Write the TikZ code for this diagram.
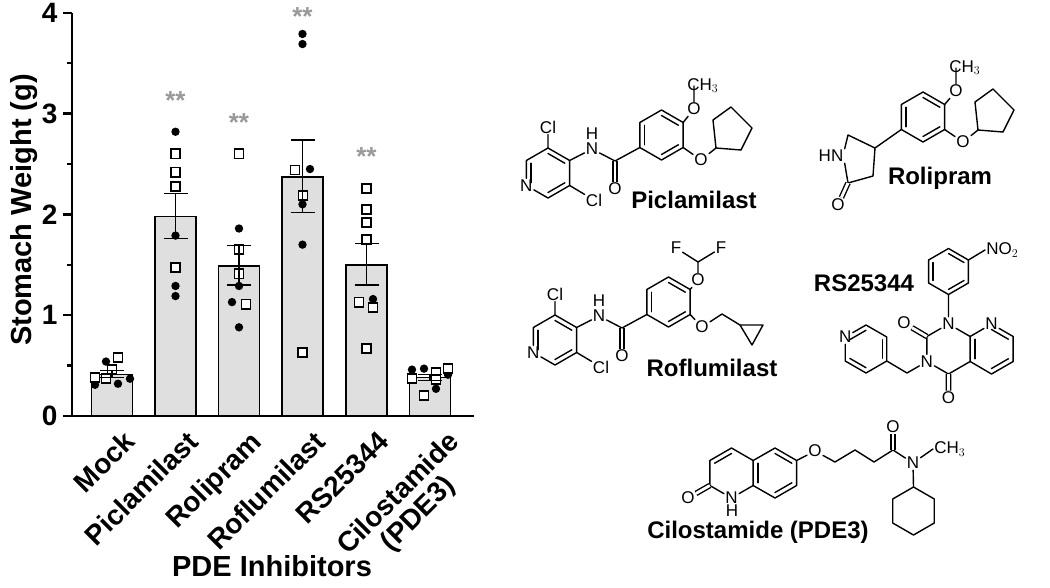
\documentclass[tikz,border=0pt]{standalone}
\usepackage{fontspec}
\setmainfont{Liberation Sans}
\usetikzlibrary{calc}

\tikzset{
  bond/.style={line width=1.4pt, line cap=round, line join=round},
  dbond/.style={bond, double, double distance=2.8pt, line cap=butt},
  atom/.style={font=\fontsize{17}{17}\selectfont, inner sep=1.2pt},
  cname/.style={font=\bfseries\fontsize{24}{24}\selectfont},
  tick/.style={font=\bfseries\fontsize{28}{28}\selectfont},
  bar/.style={fill=gray!25, draw=black, line width=1.4pt},
  dot/.style={fill=black},
  sq/.style={fill=white, draw=black, line width=1.8pt},
  star/.style={text=gray!80, font=\bfseries\fontsize{26}{26}\selectfont}
}
% hexagon: name, centre, radius
\newcommand\hexring[3]{\foreach \i in {1,...,6}
  \coordinate (#1\i) at ($(#2)+({-150+60*\i}:#3)$);}
% inner line of a ring double bond
\newcommand\dbl[3]{\draw[bond] ($(#1)!.22!(#3)$) -- ($(#2)!.22!(#3)$);}

\begin{document}
\begin{tikzpicture}[x=1pt,y=-1pt]
\useasboundingbox (0,0) rectangle (1050,587);

% ---------------- bar chart ----------------
\begin{scope}[shift={(0,416)}, y=100.8pt]
  % bars
  \foreach \x/\h in {112/0.41, 175.5/1.98, 239/1.49, 302.5/2.37, 366.5/1.50, 430/0.38}
    \draw[bar] (\x-20.5,0) rectangle (\x+20.5,\h);
  % dots
  \foreach \x/\v in {95/0.31, 106/0.54, 118/0.32, 130/0.37,
      175.5/2.82, 175.5/1.79, 175.5/1.29, 175.5/1.19,
      239/1.86, 239/1.29, 232/1.13, 239/0.88,
      302.5/3.79, 302.5/3.69, 310/2.45, 302.5/2.10, 302.5/1.70,
      373/1.16, 412/0.46, 424/0.47, 436/0.27, 448/0.41}
    \fill[dot] (\x,\v) circle (4.2pt);
  % squares
  \foreach \x/\v in {95/0.38, 106/0.37, 112/0.46, 118/0.58,
      175.5/2.60, 175.5/2.42, 175.5/2.28, 175.5/1.47,
      239/2.60, 239/1.65, 239/1.41, 246/1.11,
      295/2.44, 303/2.19, 302.5/0.63,
      366.5/2.26, 366.5/2.05, 366.5/1.92, 366.5/1.75, 359/1.13, 373/1.08, 366.5/0.67,
      412/0.37, 424/0.20, 436/0.43, 436/0.36, 448/0.47}
    \draw[sq] (\x-4.5,\v-0.045) rectangle (\x+4.5,\v+0.045);
  % error bars
  \foreach \x/\lo/\hi in {112/0.38/0.45, 175.5/1.76/2.21, 239/1.30/1.69,
      302.5/2.02/2.74, 366.5/1.30/1.71, 430/0.35/0.41}{
    \draw[line width=1.4pt] (\x,\lo) -- (\x,\hi);
    \draw[line width=1.4pt] (\x-12,\lo) -- (\x+12,\lo) (\x-12,\hi) -- (\x+12,\hi);
  }
  % significance
  \foreach \x/\v in {175.5/3.13, 239/2.91, 302.5/3.96, 366.5/2.57}
    \node[star] at (\x,\v) {**};
  % axes
  \draw[line width=2.8pt] (72,4) -- (72,0) -- (474,0);
  \foreach \v in {0,...,4}{
    \draw[line width=2.5pt] (63,\v) -- (72,\v);
    \node[tick, anchor=east] (ytick\v) at (61,\v) {\v};
  }
  \foreach \v in {0.5,1.5,2.5,3.5}
    \draw[line width=2.5pt] (67,\v) -- (72,\v);
  % group labels
  \foreach \x/\lab in {112/Mock, 175.5/Piclamilast, 239/Rolipram,
      302.5/Roflumilast, 366.5/RS25344}
    \node[tick, anchor=north east, rotate=45, inner sep=0pt] at (\x+10,-0.13) {\lab};
  \node[tick, anchor=north east, rotate=45, align=center, inner sep=0pt]
    (cilolab) at (446,-0.13) {Cilostamide\\(PDE3)};
\end{scope}
\node[font=\bfseries\fontsize{29}{29}\selectfont, rotate=90] (ylab) at (24,210) {Stomach Weight (g)};
\node[font=\bfseries\fontsize{29}{29}\selectfont] (xlab) at (272,566) {PDE Inhibitors};

% ---------------- Piclamilast ----------------
\hexring{pa}{548,173}{25}
\node[atom] (paN) at (pa5) {N};
\draw[bond] (pa1) -- (pa2) -- (pa3) -- (pa4) -- (paN) -- (pa6) -- (pa1);
\dbl{pa1}{pa2}{548,173} \dbl{pa3}{pa4}{548,173} \dbl{paN}{pa6}{548,173}
\node[atom] (paCl1) at (548,127) {Cl};
\node[atom] (paCl2) at (594,200) {Cl};
\node[atom] (paNH) at (592,149) {N};
\node[atom, inner sep=0pt] at (592,134) {H};
\coordinate (paC) at (615,161);
\node[atom] (paO) at (615,189) {O};
\draw[bond] (pa1) -- (paCl1) (pa3) -- (paCl2) (pa2) -- (paNH) -- (paC);
\draw[dbond] (paC) -- (paO);
\hexring{pb}{661.5,135}{25}
\draw[bond] (pb1) -- (pb2) -- (pb3) -- (pb4) -- (pb5) -- (pb6) -- cycle;
\dbl{pb1}{pb2}{661.5,135} \dbl{pb3}{pb4}{661.5,135} \dbl{pb5}{pb6}{661.5,135}
\draw[bond] (paC) -- (pb5);
\node[atom] (paOMe) at (694,109) {O};
\node[atom, anchor=base west] (paMe) at (686,90) {CH$_3$};
\node[atom] (paOc) at (701,160) {O};
\coordinate (pc1) at (716,148); \coordinate (pc2) at (713,120); \coordinate (pc3) at (731,107);
\coordinate (pc4) at (752,128); \coordinate (pc5) at (741,150);
\draw[bond] (pb2) -- (paOMe) -- (694,86) (pb3) -- (paOc) -- (pc1)
  (pc1) -- (pc2) -- (pc3) -- (pc4) -- (pc5) -- cycle;
\node[cname] (piclamilast) at (694,200) {Piclamilast};

% ---------------- Rolipram ----------------
\hexring{ra}{923,117}{25}
\draw[bond] (ra1) -- (ra2) -- (ra3) -- (ra4) -- (ra5) -- (ra6) -- cycle;
\dbl{ra1}{ra2}{923,117} \dbl{ra3}{ra4}{923,117} \dbl{ra5}{ra6}{923,117}
\node[atom] (raOMe) at (956,91) {O};
\node[atom, anchor=base west] (raMe) at (948,72) {CH$_3$};
\node[atom] (raOc) at (963,142) {O};
\coordinate (rc1) at (978,130); \coordinate (rc2) at (975,102); \coordinate (rc3) at (993,89);
\coordinate (rc4) at (1014,110); \coordinate (rc5) at (1003,132);
\draw[bond] (ra2) -- (raOMe) -- (956,68) (ra3) -- (raOc) -- (rc1)
  (rc1) -- (rc2) -- (rc3) -- (rc4) -- (rc5) -- cycle;
\coordinate (rb1) at (875,148); \coordinate (rb2) at (848,135);
\node[atom] (rbN) at (831,156) {HN};
\coordinate (rb4) at (848,183); \coordinate (rb5) at (873,176);
\node[atom] (rbO) at (838,205) {O};
\draw[bond] (ra5) -- (rb1) -- (rb2) -- (rbN.north east) (rbN.south east) -- (rb4) -- (rb5) -- (rb1);
\draw[dbond] (rb4) -- (rbO);
\node[cname] (rolipram) at (940,178) {Rolipram};

% ---------------- Roflumilast ----------------
\begin{scope}[shift={(7,167)}]
\hexring{fa}{548,173}{25}
\node[atom] (faN) at (fa5) {N};
\draw[bond] (fa1) -- (fa2) -- (fa3) -- (fa4) -- (faN) -- (fa6) -- (fa1);
\dbl{fa1}{fa2}{548,173} \dbl{fa3}{fa4}{548,173} \dbl{faN}{fa6}{548,173}
\node[atom] (faCl1) at (548,127) {Cl};
\node[atom] (faCl2) at (594,200) {Cl};
\node[atom] (faNH) at (592,149) {N};
\node[atom, inner sep=0pt] at (592,134) {H};
\coordinate (faC) at (615,161);
\node[atom] (faO) at (615,189) {O};
\draw[bond] (fa1) -- (faCl1) (fa3) -- (faCl2) (fa2) -- (faNH) -- (faC);
\draw[dbond] (faC) -- (faO);
\hexring{fb}{661.5,135}{25}
\draw[bond] (fb1) -- (fb2) -- (fb3) -- (fb4) -- (fb5) -- (fb6) -- cycle;
\dbl{fb1}{fb2}{661.5,135} \dbl{fb3}{fb4}{661.5,135} \dbl{fb5}{fb6}{661.5,135}
\draw[bond] (faC) -- (fb5);
\end{scope}
\node[atom] (faOt) at (698,280) {O};
\coordinate (faCH) at (698,262);
\node[atom] (faF1) at (676,248) {F};
\node[atom] (faF2) at (721,248) {F};
\node[atom] (faOc) at (702,327) {O};
\coordinate (faCH2) at (722,314);
\coordinate (fc1) at (740,325); \coordinate (fc2) at (763,325); \coordinate (fc3) at (752,345);
\draw[bond] (fb2) -- (faOt) -- (faCH) -- (faF1) (faCH) -- (faF2)
  (fb3) -- (faOc) -- (faCH2) -- (fc1) (fc1) -- (fc2) -- (fc3) -- cycle;
\node[cname] (roflumilast) at (712,368) {Roflumilast};

% ---------------- RS25344 ----------------
\node[cname] (rs25344) at (864,283) {RS25344};
\hexring{sa}{948.5,271.5}{23}
\draw[bond] (sa1) -- (sa2) -- (sa3) -- (sa4) -- (sa5) -- (sa6) -- cycle;
\dbl{sa1}{sa2}{948.5,271.5} \dbl{sa3}{sa4}{948.5,271.5} \dbl{sa5}{sa6}{948.5,271.5}
\node[atom, anchor=west] (saNO) at (985,250) {NO$_2$};
\draw[bond] (sa2) -- (saNO.west);
\hexring{sb}{948.5,349}{25}
\hexring{sc}{991.5,349}{25}
\node[atom] (sbN1) at (sb1) {N};
\node[atom] (sbN3) at (sb5) {N};
\node[atom] (scN8) at (sc1) {N};
\draw[bond] (sa4) -- (sbN1) -- (sb2) -- (sb3) -- (sb4) -- (sbN3) -- (sb6) -- (sbN1);
\draw[bond] (sb2) -- (scN8) -- (sc2) -- (sc3) -- (sc4) -- (sb3);
\dbl{sb2}{sb3}{991.5,349} \dbl{scN8}{sc2}{991.5,349} \dbl{sc3}{sc4}{991.5,349}
\node[atom] (sbO2) at (904,323) {O};
\node[atom] (sbO4) at (948.5,398) {O};
\draw[dbond] (sb6) -- (sbO2) (sb4) -- (sbO4);
\coordinate (sbCH2) at (907,373);
\hexring{sd}{866,349}{24}
\node[atom] (sdN) at (sd6) {N};
\draw[bond] (sbN3) -- (sbCH2) -- (sd3)
  (sd1) -- (sd2) -- (sd3) -- (sd4) -- (sd5) -- (sdN) -- (sd1);
\dbl{sdN}{sd1}{866,349} \dbl{sd2}{sd3}{866,349} \dbl{sd4}{sd5}{866,349}

% ---------------- Cilostamide ----------------
\hexring{ca}{731.5,473}{25}
\hexring{cb}{775,473}{25}
\node[atom] (caNH) at (ca4) {N};
\node[atom, inner sep=0pt] at (732,511) {H};
\draw[bond] (ca1) -- (ca2) -- (ca3) -- (caNH) -- (ca5) -- (ca6) -- (ca1);
\dbl{ca6}{ca1}{731.5,473}
\draw[bond] (ca2) -- (cb1) -- (cb2) -- (cb3) -- (cb4) -- (ca3);
\dbl{cb1}{cb2}{775,473} \dbl{cb3}{cb4}{775,473} \dbl{ca2}{ca3}{775,473}
\node[atom] (caO) at (688,498) {O};
\draw[dbond] (ca5) -- (caO);
\node[atom] (cbO) at (815,451) {O};
\coordinate (cch1) at (835,462); \coordinate (cch2) at (855,450);
\coordinate (cch3) at (874,462); \coordinate (cch4) at (893,450);
\node[atom] (cchO) at (893,427) {O};
\node[atom] (cchN) at (913,463) {N};
\node[atom, anchor=west] (cchMe) at (933,449) {CH$_3$};
\draw[bond] (cb2) -- (cbO) -- (cch1) -- (cch2) -- (cch3) -- (cch4) -- (cchN) -- (cchMe.west);
\draw[dbond] (cch4) -- (cchO);
\hexring{cc}{913.5,511}{24}
\draw[bond] (cchN) -- (cc1) (cc1) -- (cc2) -- (cc3) -- (cc4) -- (cc5) -- (cc6) -- cycle;
\node[cname] (cilostamide) at (758,532) {Cilostamide (PDE3)};
\end{tikzpicture}
\end{document}
